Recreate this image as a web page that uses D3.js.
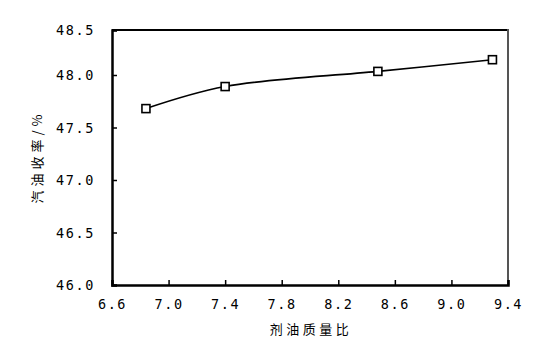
<!DOCTYPE html>
<html>
<head>
<meta charset="utf-8">
<script src="https://cdn.jsdelivr.net/npm/d3@7"></script>
<style>
  body { margin: 0; background: #fff; }
  .tick text { font-family: "DejaVu Sans Mono", monospace; font-size: 13.5px; letter-spacing: 1.6px; fill: #000; }
  .title { font-family: "Noto Sans CJK SC", sans-serif; font-size: 13px; fill: #000; }
</style>
</head>
<body>
<script>
// catalyst/oil mass ratio vs gasoline yield
let ratios = [6.84, 7.40, 8.48, 9.29]
let yields = [47.68, 47.89, 48.04, 48.17]
let xTicks = [6.6, 7.0, 7.4, 7.8, 8.2, 8.6, 9.0, 9.4]
let yTicks = [46.0, 46.5, 47.0, 47.5, 48.0, 48.5]

let width = 551, height = 357
let plotLeft = 112, plotRight = 508, plotTop = 30, plotBottom = 285

let svg = d3.select("body").append("svg")
  .attr("width", width)
  .attr("height", height)

let x = d3.scaleLinear().domain([6.6, 9.4]).range([plotLeft, plotRight])
// the source image is slightly uneven between 48.0 and 48.5
let y = d3.scaleLinear().domain([46, 48, 48.5]).range([plotBottom, 75, plotTop])

// frame: top and right
svg.append("line")
  .attr("x1", plotLeft).attr("x2", plotRight).attr("y1", plotTop).attr("y2", plotTop)
  .attr("stroke", "#000").attr("stroke-width", 2)
svg.append("line")
  .attr("x1", plotRight).attr("x2", plotRight).attr("y1", plotTop - 1).attr("y2", plotBottom)
  .attr("stroke", "#555").attr("stroke-width", 2)

// axes with inward ticks
let xAxis = d3.axisBottom(x).tickValues(xTicks).tickSize(-5).tickPadding(14)
  .tickFormat(d3.format(".1f"))
let yAxis = d3.axisLeft(y).tickValues(yTicks).tickSize(-5).tickPadding(17)
  .tickFormat(d3.format(".1f"))

svg.append("g")
  .attr("transform", `translate(0,${plotBottom})`)
  .call(xAxis)
  .call(g => g.select(".domain").attr("stroke-width", 2.5))
  .call(g => g.selectAll(".tick line").attr("stroke-width", 1.5))

svg.append("g")
  .attr("transform", `translate(${plotLeft},0)`)
  .call(yAxis)
  .call(g => g.select(".domain").attr("stroke-width", 2.5))
  .call(g => g.selectAll(".tick line").attr("stroke-width", 1.5))
  .call(g => g.selectAll(".tick text").attr("dy", "0.35em"))

// line
let line = d3.line()
  .x((d, i) => x(ratios[i]))
  .y(d => y(d))
  .curve(d3.curveCatmullRom.alpha(0.5))

svg.append("path")
  .datum(yields)
  .attr("d", line)
  .attr("fill", "none")
  .attr("stroke", "#000")
  .attr("stroke-width", 1.6)

// markers
svg.selectAll("rect.marker")
  .data(yields)
  .join("rect")
  .attr("class", "marker")
  .attr("x", (d, i) => x(ratios[i]) - 4)
  .attr("y", d => y(d) - 4)
  .attr("width", 8)
  .attr("height", 8)
  .attr("fill", "#fff")
  .attr("stroke", "#000")
  .attr("stroke-width", 1.6)

// axis titles
svg.append("text")
  .attr("class", "title")
  .attr("x", 311)
  .attr("y", 334)
  .attr("text-anchor", "middle")
  .style("letter-spacing", "3.5px")
  .text("剂油质量比")

svg.append("text")
  .attr("class", "title")
  .attr("transform", "translate(42,157) rotate(-90)")
  .attr("text-anchor", "middle")
  .style("letter-spacing", "4px")
  .text("汽油收率/%")
</script>
</body>
</html>
